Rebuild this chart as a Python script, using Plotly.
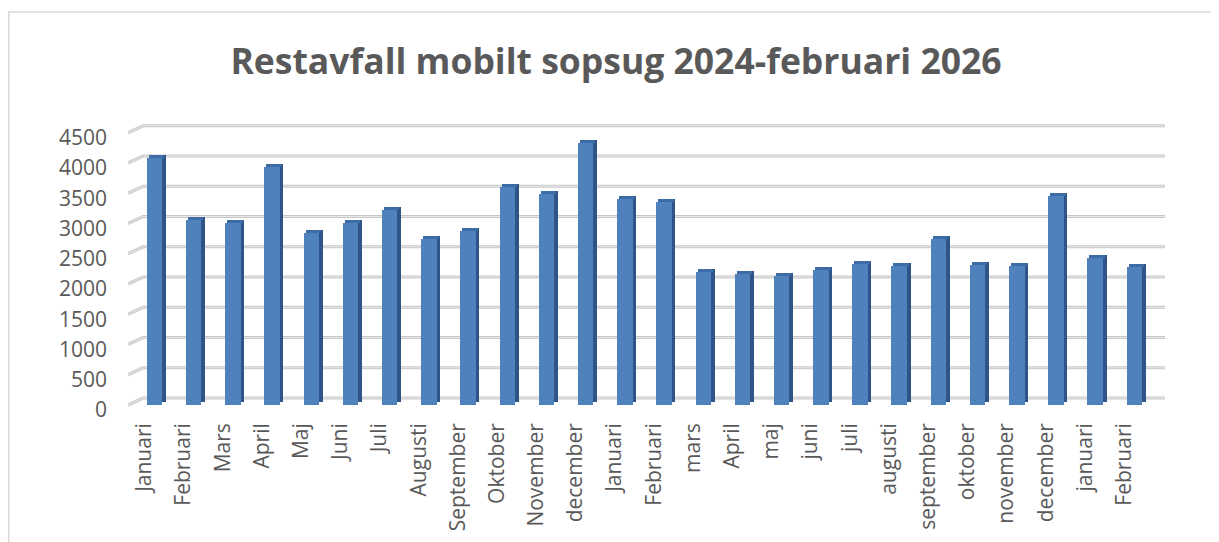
import plotly.graph_objects as go

months = ["Januari", "Februari", "Mars", "April", "Maj", "Juni", "Juli", "Augusti",
          "September", "Oktober", "November", "december", "Januari", "Februari",
          "mars", "April", "maj", "juni", "juli", "augusti", "september", "oktober",
          "november", "december", "januari", "Februari"]
values = [4080, 3050, 3010, 3940, 2850, 3010, 3230, 2740, 2870, 3600, 3480, 4330,
          3400, 3355, 2205, 2170, 2140, 2230, 2325, 2300, 2740, 2310, 2300, 3455,
          2430, 2285]
y_ticks = [0, 500, 1000, 1500, 2000, 2500, 3000, 3500, 4000, 4500]

W, H = 1219, 542
OFF = 8  # page body margin
L, R, T, B = 128 - OFF, 1165 - OFF, 120 - OFF, 410 - OFF
xr = [-0.676, 25.78]
yr = [-82.6, 4711]
px_x = (R - L) / (xr[1] - xr[0])      # pixels per category
px_y = (B - T) / (yr[1] - yr[0])      # pixels per unit

depth_x = 15 / px_x
depth_y = 7 / px_y
bar_w = 15.5 / px_x
side_w = 4 / px_x
lift = 3 / px_y
shift = 2 / px_x

idx = list(range(len(months)))
front_col = "#4F81BD"
side_col = "#2F5487"
top_col = "#3E6CA6"

fig = go.Figure()
fig.add_trace(go.Bar(x=idx, y=values, base=[lift] * len(idx), width=side_w,
                     offset=bar_w / 2 - 0.01, marker=dict(color=side_col, line=dict(width=0)),
                     hoverinfo="skip", showlegend=False))
fig.add_trace(go.Bar(x=idx, y=[lift] * len(idx), base=values, width=bar_w,
                     offset=-bar_w / 2 + shift, marker=dict(color=top_col, line=dict(width=0)),
                     hoverinfo="skip", showlegend=False))
fig.add_trace(go.Bar(x=idx, y=values, width=bar_w, offset=-bar_w / 2,
                     marker=dict(color=front_col, line=dict(width=0)),
                     name="Restavfall", showlegend=False))

shapes = []
for v in y_ticks:
    path = (f"M {xr[0]},{v} L {xr[0] + depth_x},{v + depth_y} "
            f"L {xr[1]},{v + depth_y}")
    shapes.append(dict(type="path", xref="x", yref="y", path=path, layer="below",
                       line=dict(color="#C8C8C8", width=3.2)))
    shapes.append(dict(type="path", xref="x", yref="y", path=path, layer="below",
                       line=dict(color="#E8E8E8", width=1)))

pw, ph = R - L, B - T
shapes.append(dict(type="rect", xref="paper", yref="paper",
                   x0=(0.8 - L) / pw, x1=(1240 - L) / pw,
                   y0=(B - 570) / ph, y1=(B - 4) / ph,
                   line=dict(color="#D9D9D9", width=1.5), fillcolor="rgba(0,0,0,0)"))

fig.update_layout(
    width=W, height=H,
    margin=dict(l=L, r=W - R, t=T, b=H - B),
    paper_bgcolor="white", plot_bgcolor="rgba(0,0,0,0)",
    barmode="overlay",
    title=dict(text="Restavfall mobilt sopsug 2024-februari 2026",
               x=(616 - OFF) / W, xanchor="center", xref="container",
               y=1 - (62 - OFF) / H, yanchor="middle", yref="container",
               font=dict(family="Open Sans", size=35.5, color="#595959", weight=700)),
    xaxis=dict(range=xr, tickvals=[i - 0.26 for i in idx], ticktext=months,
               tickangle=-90, showgrid=False, zeroline=False, showline=False,
               ticks="", ticklabelstandoff=8,
               tickfont=dict(family="Open Sans", size=21, color="#595959")),
    yaxis=dict(range=yr, tickvals=y_ticks, showgrid=False, zeroline=False,
               showline=False, ticks="", ticklabelstandoff=20, ticklabelshift=5,
               tickfont=dict(family="Open Sans", size=21, color="#595959")),
    shapes=shapes,
    bargap=0,
)

fig.write_html("out.html")
